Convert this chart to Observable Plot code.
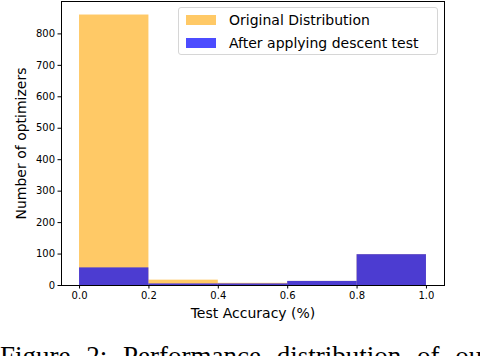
<!DOCTYPE html>
<html>
<head>
<meta charset="utf-8">
<script src="https://cdn.jsdelivr.net/npm/d3@7"></script>
<script src="https://cdn.jsdelivr.net/npm/@observablehq/plot@0.6"></script>
<style>
  html, body { margin: 0; padding: 0; background: #fff; overflow: hidden; }
  #wrap { position: relative; width: 480px; height: 356px; overflow: hidden; }
  #legend {
    position: absolute; left: 178px; top: 7px; width: 258px; height: 46px;
    border: 1px solid #d6d6d6; border-radius: 3px; background: rgba(255,255,255,0.8);
    font-family: "DejaVu Sans", sans-serif; font-size: 14px; color: #000;
  }
  .item { position: absolute; left: 7px; height: 16px; display: flex; align-items: center; }
  .sw { width: 30px; height: 10px; margin-right: 13px; }
  #caption {
    position: absolute; left: 0; top: 343px; white-space: nowrap; line-height: 27px;
    font-family: "Liberation Serif", serif; font-size: 27px; color: #000; word-spacing: 9px;
  }
</style>
</head>
<body>
<div id="wrap">
  <div id="chart"></div>
  <div id="legend"></div>
  <div id="caption">Figure 2: Performance distribution of our</div>
</div>
<script>
const binStart = [0.0, 0.2, 0.4, 0.6, 0.8];
const binEnd = [0.2, 0.4, 0.6, 0.8, 1.0];
const originalCounts = [860, 17, 7, 13, 98];
const afterTestCounts = [56, 5, 5, 13, 98];
const xTicks = [0.0, 0.2, 0.4, 0.6, 0.8, 1.0];
const yTicks = [0, 100, 200, 300, 400, 500, 600, 700, 800];
const seriesNames = ["Original Distribution", "After applying descent test"];
const seriesColors = ["orange", "blue"];
const seriesOpacity = [0.6, 0.7];

const orig = binStart.map((s, i) => ({x1: s, x2: binEnd[i], y: originalCounts[i]}));
const after = binStart.map((s, i) => ({x1: s, x2: binEnd[i], y: afterTestCounts[i]}));

const chart = Plot.plot({
  width: 480,
  height: 330,
  marginLeft: 61,
  marginRight: 36,
  marginTop: 1,
  marginBottom: 45,
  style: {fontFamily: "DejaVu Sans, sans-serif", fontSize: "10px", color: "#000", background: "#fff"},
  x: {domain: [-0.052, 1.052]},
  y: {domain: [0, 903]},
  marks: [
    Plot.rectY(orig, {x1: "x1", x2: "x2", y: "y", fill: seriesColors[0], fillOpacity: seriesOpacity[0], inset: 0}),
    Plot.rectY(after, {x1: "x1", x2: "x2", y: "y", fill: seriesColors[1], fillOpacity: seriesOpacity[1], inset: 0}),
    Plot.axisX({ticks: xTicks, tickFormat: d3.format(".1f"), tickSize: 3.5, tickPadding: 3, fontSize: 10,
      label: "Test Accuracy (%)", labelAnchor: "center", labelArrow: "none", labelOffset: 32}),
    Plot.axisY({ticks: yTicks, tickSize: 3.5, tickPadding: 3, fontSize: 10,
      label: "Number of optimizers", labelAnchor: "center", labelArrow: "none", labelOffset: 45}),
    Plot.frame({stroke: "#000", strokeWidth: 1})
  ]
});
chart.querySelectorAll('[aria-label="x-axis label"] text, [aria-label="y-axis label"] text').forEach(t => {
  t.style.fontSize = "14px";
});
document.getElementById("chart").appendChild(chart);

const legend = document.getElementById("legend");
seriesNames.forEach((name, i) => {
  const item = document.createElement("div");
  item.className = "item";
  item.style.top = (i === 0 ? 4 : 27) + "px";
  const sw = document.createElement("div");
  sw.className = "sw";
  sw.style.background = seriesColors[i];
  sw.style.opacity = seriesOpacity[i];
  const label = document.createElement("span");
  label.textContent = name;
  item.appendChild(sw);
  item.appendChild(label);
  legend.appendChild(item);
});
</script>
</body>
</html>
